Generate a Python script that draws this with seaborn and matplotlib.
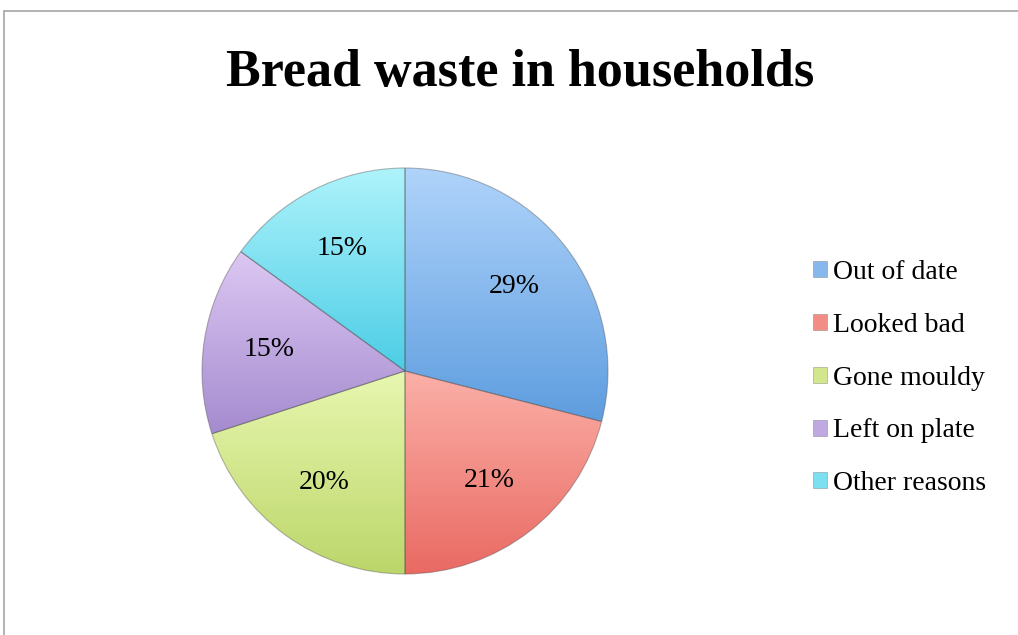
import numpy as np
import matplotlib
matplotlib.use("Agg")
import matplotlib.pyplot as plt
import seaborn as sns
from matplotlib.lines import Line2D
from matplotlib.patches import Patch

# Reasons for bread being thrown away (share of households, %)
categories = ["Out of date", "Looked bad", "Gone mouldy", "Left on plate", "Other reasons"]
shares = [29, 21, 20, 15, 15]

# light (top) and dark (bottom) shade of each slice
top_colors = ["#b0d4fb", "#fbb0a8", "#e8f7b0", "#dcc8f3", "#aef3fb"]
bottom_colors = ["#5e9ddf", "#e96a63", "#bcd66a", "#a58bcf", "#4ccde6"]

sns.set_theme(style="white")
plt.rcParams["font.family"] = ["Liberation Serif", "DejaVu Serif"]
plt.rcParams["text.color"] = "black"

W, H = 1018, 635
fig = plt.figure(figsize=(W / 100, H / 100), dpi=100)
fig.patch.set_facecolor("white")

# pie area: centre (405, 371) px, radius 203 px
cx, cy, r = 405, 371, 203
ax = fig.add_axes([(cx - r) / W, (H - cy - r) / H, 2 * r / W, 2 * r / H])
mid_colors = [sns.blend_palette([t, b], 3)[1] for t, b in zip(top_colors, bottom_colors)]

wedges, texts, autotexts = ax.pie(
    shares,
    startangle=90,
    counterclock=False,
    colors=mid_colors,
    autopct=lambda p: f"{p:.0f}%",
    pctdistance=0.68,
    wedgeprops=dict(edgecolor=(0.3, 0.3, 0.3, 0.4), linewidth=0.8),
    textprops=dict(fontsize=20, color="black"),
)

# vertical light-to-dark gradient inside every slice
for w, t, b in zip(wedges, top_colors, bottom_colors):
    ext = w.get_path().get_extents()
    grad = np.array(sns.blend_palette([t, b], 256))[:, None, :3]
    im = ax.imshow(grad, extent=[ext.x0, ext.x1, ext.y0, ext.y1],
                   origin="upper", aspect="auto", zorder=w.get_zorder() - 0.1,
                   interpolation="bilinear")
    im.set_clip_path(w)
    w.set_facecolor("none")

ax.set_xlim(-1.0, 1.0)
ax.set_ylim(-1.0, 1.0)
ax.set_aspect("equal")
ax.axis("off")

fig.text(520 / W, 1 - 73 / H, "Bread waste in households", ha="center", va="center",
         fontsize=37.5, fontweight="bold", color="black")

# legend keys shaded like the slices
handles = [Patch(facecolor=c, edgecolor=(0.4, 0.4, 0.4, 0.5), linewidth=0.5) for c in mid_colors]
leg = fig.legend(handles, categories, loc="upper left",
                 bbox_to_anchor=(802 / W, 1 - 249 / H), frameon=False,
                 fontsize=20, handlelength=0.5, handleheight=0.5,
                 handletextpad=0.2, labelspacing=1.0, borderaxespad=0,
                 labelcolor="black")

# chart frame (top and left edges)
frame_kw = dict(color="#a6a6a6", linewidth=1.2, transform=fig.transFigure)
fig.add_artist(Line2D([4 / W, 1], [1 - 11 / H, 1 - 11 / H], **frame_kw))
fig.add_artist(Line2D([4 / W, 4 / W], [0, 1 - 11 / H], **frame_kw))

fig.savefig("out.png", dpi=100)
